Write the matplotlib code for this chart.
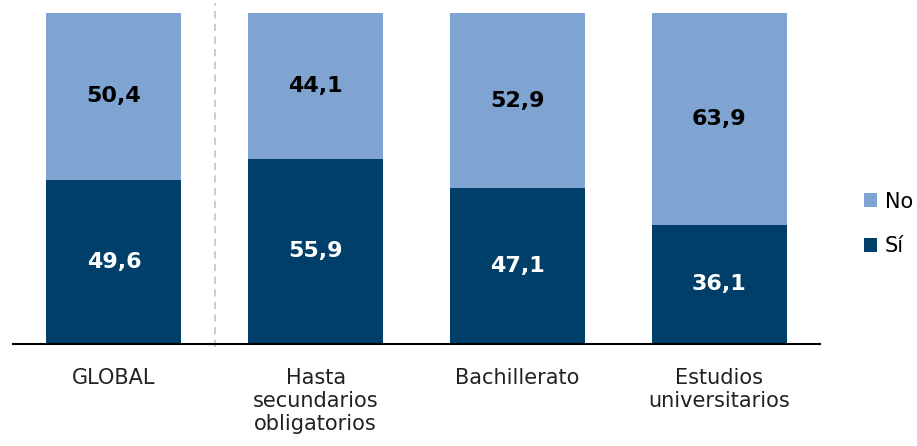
import matplotlib
matplotlib.use("Agg")
import matplotlib.pyplot as plt

categories = ["GLOBAL", "Hasta\nsecundarios\nobligatorios", "Bachillerato", "Estudios\nuniversitarios"]
si_values = [49.6, 55.9, 47.1, 36.1]
no_values = [50.4, 44.1, 52.9, 63.9]
series_names = ["Sí", "No"]

c_si = "#003F69"
c_no = "#80A4D1"

W, H = 917, 446
fig = plt.figure(figsize=(W / 100, H / 100), dpi=100)
ax = fig.add_axes([13 / W, (H - 344) / H, (820 - 13) / W, (344 - 13) / H])

x = list(range(len(categories)))
bw = 0.668
b1 = ax.bar(x, si_values, width=bw, color=c_si, label=series_names[0], zorder=2)
b2 = ax.bar(x, no_values, width=bw, bottom=si_values, color=c_no, label=series_names[1], zorder=2)

def fmt(v):
    return f"{v:.1f}".replace(".", ",")

for xi, s, n in zip(x, si_values, no_values):
    ax.text(xi, s / 2, fmt(s), ha="center", va="center", color="white",
            fontsize=16, fontweight="bold")
    ax.text(xi, s + n / 2, fmt(n), ha="center", va="center", color="black",
            fontsize=16, fontweight="bold")

ax.set_xlim(-0.5, 3.5)
ax.set_ylim(0, 100)
ax.axvline(0.5, ymin=-0.01, ymax=1.03, color="#c8c8c8", linestyle=(0, (4, 3)),
           linewidth=1.3, clip_on=False, zorder=1)

for sp in ["top", "right", "left"]:
    ax.spines[sp].set_visible(False)
ax.spines["bottom"].set_linewidth(1.5)
ax.spines["bottom"].set_color("black")
ax.set_yticks([])
ax.set_xticks(x)
ax.set_xticklabels(categories, fontsize=15, color="#222222", linespacing=1.2)
ax.tick_params(axis="x", length=0, pad=17)

handles = [b2, b1]
leg = fig.legend(handles, ["No", "Sí"], loc="center left",
                 bbox_to_anchor=(845 / W, 1 - 224 / H), frameon=False,
                 fontsize=15, handlelength=0.65, handleheight=0.65,
                 handletextpad=0.35, labelspacing=1.2)

fig.savefig("out.png", dpi=100)
